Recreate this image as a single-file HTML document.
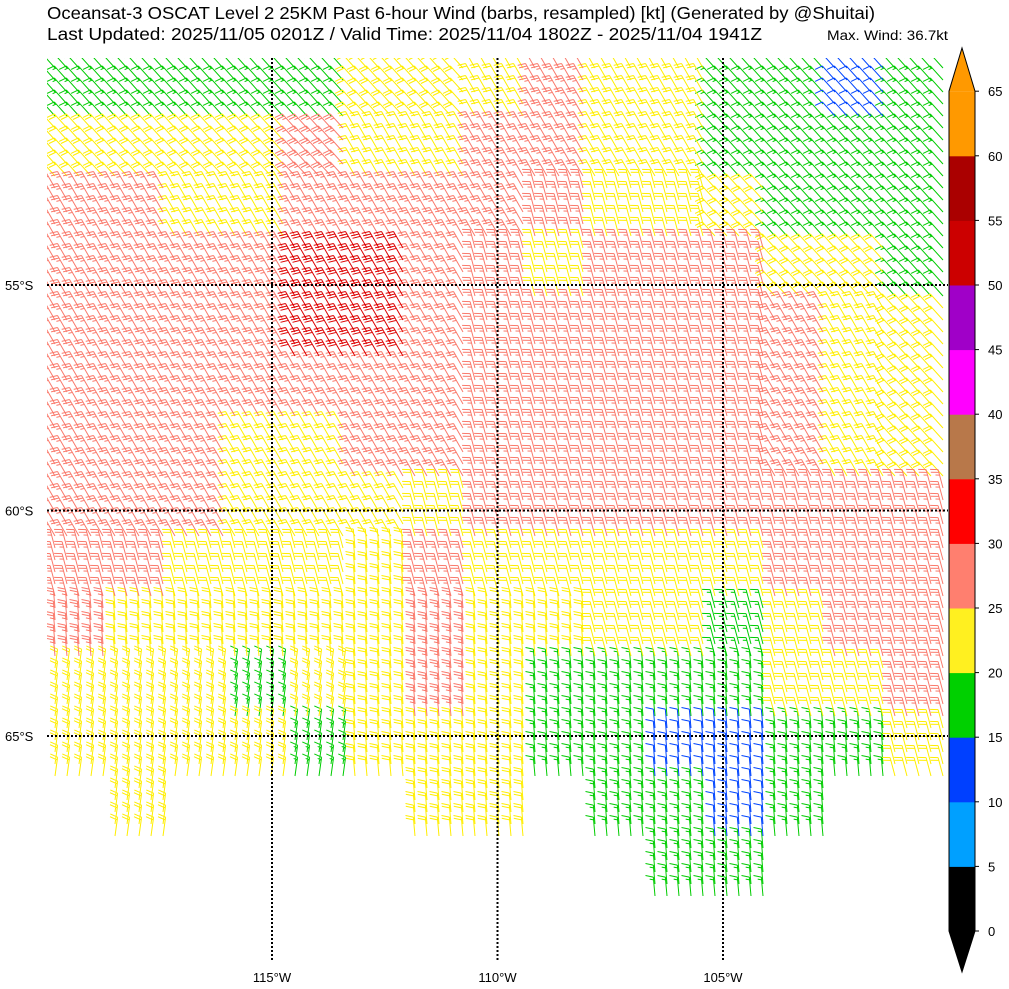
<!DOCTYPE html>
<html><head><meta charset="utf-8"><style>
body{margin:0;background:#fff;}
svg{display:block;font-family:"Liberation Sans","DejaVu Sans",sans-serif;}
</style></head><body>
<svg id="chart" width="1009" height="989" viewBox="0 0 1009 989">
<text x="47" y="19" font-size="17.5" textLength="828" lengthAdjust="spacingAndGlyphs">Oceansat-3 OSCAT Level 2 25KM Past 6-hour Wind (barbs, resampled) [kt] (Generated by @Shuitai)</text>
<text x="47" y="40" font-size="17.5" textLength="715" lengthAdjust="spacingAndGlyphs">Last Updated: 2025/11/05 0201Z / Valid Time: 2025/11/04 1802Z - 2025/11/04 1941Z</text>
<text x="827" y="40" font-size="13.5" textLength="121" lengthAdjust="spacingAndGlyphs">Max. Wind: 36.7kt</text>
<defs><clipPath id="mapclip"><rect x="47" y="58" width="901" height="904"/></clipPath></defs>
<g id="barbs" clip-path="url(#mapclip)"></g>
<g id="grid"></g>
<g id="cbar"></g>
</svg>
<script>
// coarse speed categories (15 cols x 15 rows, each ~60px): . none, b 10-15, g 15-20, y 20-25, r 25-30, R 30-35
const speedRows = [
"gggggyyyryyggbg",
"yyyyryyrryygggg",
"rryyrrrrryyyggg",
"rrrrRRrryrrryyg",
"rrrrRRrrrrrrryy",
"rrrrrrrrrrrrryy",
"rrryyrrrrrrrryy",
"rrryyyyrrrrrrrr",
"rryyyyryyyyyrrr",
"ryyyyyryyyygyrr",
"yyygyyryggggyyr",
"yyyygyyyggbbggy",
".y....yy.ggbg..",
"..........gg...",
"..............."
];
// shaft direction codes per cell
const dirRows = [
"aaaaaaabbbbaaaa",
"aaaaabbbbbbaaaa",
"bbbbbbbbcccaaaa",
"bbbbbbbcccccaaa",
"bbbbbbbcccccbba",
"bbbbbbbcccccbba",
"bbbbbbbcccccbba",
"bbbbbbccccccccc",
"cccccdccccccccc",
"dddddddddcccccc",
"eeeeedddddddccc",
"eeeeedddddddddc",
"eeeeeeddddddddd",
"eeeeeeddddddddd",
"eeeeeeddddddddd"
];
const catSpeed = {b:12, g:17, y:22, r:27, R:32};
const catColor = {b:"#0044ff", g:"#00cc00", y:"#ffee00", r:"#fa7a6c", R:"#dd0000"};
const dirAngle = {a:318, b:330, c:345, d:355, e:8};
const lonTicks = [-115,-110,-105];
const latTicks = [-55,-60,-65];
const cbLevels = [0,5,10,15,20,25,30,35,40,45,50,55,60,65];
const cbColors = ["#000000","#00a0ff","#0040ff","#00d000","#fff020","#ff7f6f","#ff0000","#b8784a","#ff00ff","#a000c8","#cc0000","#aa0000","#ff9900"];

const NS="http://www.w3.org/2000/svg";
const X0=47,Y0=58,W=901,H=904;
function lonX(lon){return 272+(lon+115)*45.1;}
function latY(lat){return 285+(-55-lat)*45.1;}
function kY(k){return 931-k*12.92;}

// barbs
const paths={};
const step=12;
for(let py=Y0+10;py<Y0+H+10;py+=step){
  for(let px=X0+8;px<X0+W;px+=step){
    const r=Math.min(14,Math.floor((py-Y0)/60.3)), c=Math.min(14,Math.floor((px-X0)/60.1));
    const cat=speedRows[r][c]; if(cat==='.')continue;
    const spd=catSpeed[cat]; const a=dirAngle[dirRows[r][c]]*Math.PI/180;
    const dx=Math.sin(a),dy=-Math.cos(a);
    const fx=dy*0.96+dx*0.28, fy=-dx*0.96+dy*0.28;
    const L=19; let d="M"+px.toFixed(1)+" "+py.toFixed(1)+"L"+(px+dx*L).toFixed(1)+" "+(py+dy*L).toFixed(1);
    let n10=Math.floor(spd/10), n5=Math.floor((spd%10)/5), pos=L;
    for(let i=0;i<n10;i++){const bx=px+dx*pos,by=py+dy*pos;d+="M"+bx.toFixed(1)+" "+by.toFixed(1)+"l"+(fx*8).toFixed(1)+" "+(fy*8).toFixed(1);pos-=2.8;}
    if(n5){const bx=px+dx*pos,by=py+dy*pos;d+="M"+bx.toFixed(1)+" "+by.toFixed(1)+"l"+(fx*4).toFixed(1)+" "+(fy*4).toFixed(1);}
    paths[cat]=(paths[cat]||"")+d;
  }
}
const bg=document.getElementById("barbs");
for(const k in paths){
  const p=document.createElementNS(NS,"path");
  p.setAttribute("d",paths[k]);p.setAttribute("stroke",catColor[k]);p.setAttribute("stroke-width","1");p.setAttribute("fill","none");
  
  
  bg.appendChild(p);
}
// graticule
const gg=document.getElementById("grid");
lonTicks.forEach(lon=>{
  const x=lonX(lon);
  const l=document.createElementNS(NS,"line");
  l.setAttribute("x1",x);l.setAttribute("x2",x);l.setAttribute("y1",Y0);l.setAttribute("y2",Y0+H);
  l.setAttribute("stroke","#000");l.setAttribute("stroke-width","2");l.setAttribute("stroke-dasharray","2 2");
  
  
  gg.appendChild(l);
  const t=document.createElementNS(NS,"text");
  t.setAttribute("x",x);t.setAttribute("y",982);t.setAttribute("text-anchor","middle");t.setAttribute("font-size","13");
  t.textContent=(-lon)+"°W";
  
  
  gg.appendChild(t);
});
latTicks.forEach(lat=>{
  const y=latY(lat);
  const l=document.createElementNS(NS,"line");
  l.setAttribute("x1",X0);l.setAttribute("x2",X0+W);l.setAttribute("y1",y);l.setAttribute("y2",y);
  l.setAttribute("stroke","#000");l.setAttribute("stroke-width","2");l.setAttribute("stroke-dasharray","2 2");
  
  
  gg.appendChild(l);
  const t=document.createElementNS(NS,"text");
  t.setAttribute("x",5);t.setAttribute("y",y+5);t.setAttribute("font-size","13");
  t.textContent=(-lat)+"°S";
  
  
  gg.appendChild(t);
});
// colorbar
const cb=document.getElementById("cbar");
const cx=949,cw=26;
for(let i=0;i<cbColors.length;i++){
  const y1=kY(cbLevels[i+1]), y2=kY(cbLevels[i]);
  const r=document.createElementNS(NS,"rect");
  r.setAttribute("x",cx);r.setAttribute("y",y1);r.setAttribute("width",cw);r.setAttribute("height",y2-y1+0.5);r.setAttribute("fill",cbColors[i]);
  
  
  cb.appendChild(r);
}
const cbTop=kY(65),cbBot=kY(0);
const tri1=document.createElementNS(NS,"polygon");
tri1.setAttribute("points",`${cx},${cbTop} ${cx+cw/2},48 ${cx+cw},${cbTop}`);tri1.setAttribute("fill",cbColors[cbColors.length-1]);


cb.appendChild(tri1);
const tri2=document.createElementNS(NS,"polygon");
tri2.setAttribute("points",`${cx},${cbBot} ${cx+cw/2},972 ${cx+cw},${cbBot}`);tri2.setAttribute("fill",cbColors[0]);


cb.appendChild(tri2);
const ol=document.createElementNS(NS,"polygon");
ol.setAttribute("points",`${cx},${cbTop} ${cx+cw/2},48 ${cx+cw},${cbTop} ${cx+cw},${cbBot} ${cx+cw/2},972 ${cx},${cbBot}`);
ol.setAttribute("fill","none");ol.setAttribute("stroke","#000");ol.setAttribute("stroke-width","1");


cb.appendChild(ol);
cbLevels.forEach(k=>{
  const y=kY(k);
  const tk=document.createElementNS(NS,"line");
  tk.setAttribute("x1",cx+cw);tk.setAttribute("x2",cx+cw+4);tk.setAttribute("y1",y);tk.setAttribute("y2",y);tk.setAttribute("stroke","#000");
  
  
  cb.appendChild(tk);
  const t=document.createElementNS(NS,"text");
  t.setAttribute("x",988);t.setAttribute("y",y+5);t.setAttribute("font-size","13");t.textContent=k;
  
  
  cb.appendChild(t);
});
</script>
</body></html>
